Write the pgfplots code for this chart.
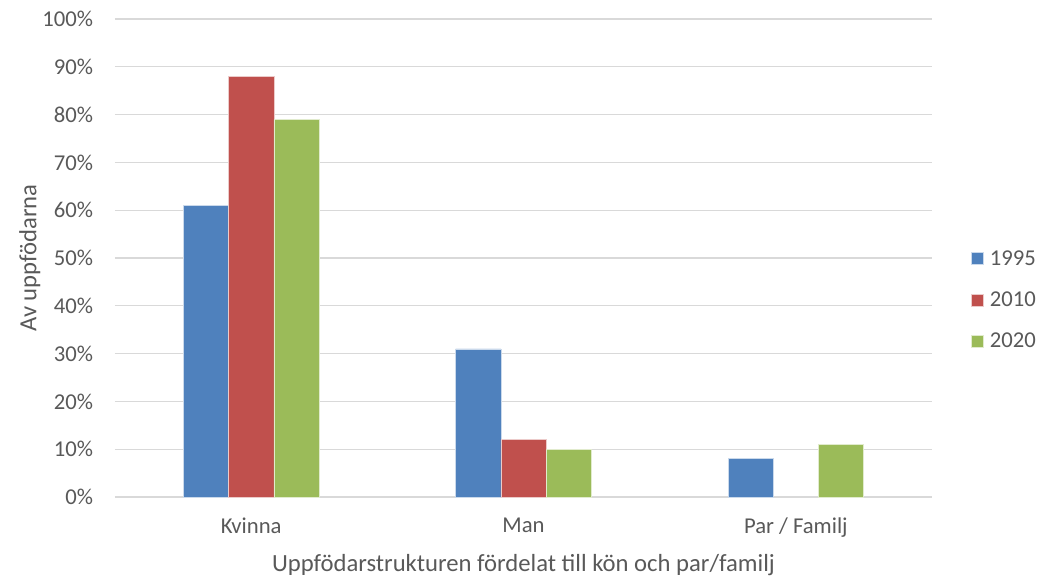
\documentclass[border=0pt]{standalone}
\usepackage{fontspec}
\setmainfont{Carlito}
\usepackage{pgfplots}
\pgfplotsset{compat=1.18}
\usetikzlibrary{calc}

\definecolor{c95}{HTML}{4F81BD}
\definecolor{c10}{HTML}{C0504D}
\definecolor{c20}{HTML}{9BBB59}
\definecolor{gridc}{HTML}{D9D9D9}
\definecolor{txt}{HTML}{595959}

\begin{document}
\begin{tikzpicture}
\begin{axis}[
  name=ax,
  scale only axis,
  width=612.75pt, height=358.5pt,
  xmin=-0.5, xmax=2.5,
  ymin=0, ymax=100,
  ytick={0,10,...,100},
  yticklabel={\pgfmathprintnumber{\tick}\%},
  /pgf/number format/assume math mode=true,
  xtick={0,1,2},
  xticklabels={Kvinna, Man, Par / Familj},
  major tick length=0pt,
  ymajorgrids,
  grid style={gridc, line width=0.9pt},
  axis x line*=bottom,
  axis y line*=left,
  x axis line style={gridc, line width=0.9pt, -},
  y axis line style={draw=none},
  tick label style={font=\fontsize{17}{19}\selectfont, text=txt},
  yticklabel style={xshift=-13pt},
  xticklabel style={yshift=-12pt},
  xlabel={Uppfödarstrukturen fördelat till kön och par/familj},
  ylabel={Av uppfödarna},
  label style={font=\fontsize{18.5}{21}\selectfont, text=txt},
  xlabel style={yshift=-6pt},
  ylabel style={yshift=-5.5pt},
  ybar,
  bar width=0.166,
  legend style={at={(1.047,0.412)}, anchor=west, draw=none,
    font=\fontsize{17}{19}\selectfont, text=txt,
    row sep=14.5pt, column sep=3pt, inner xsep=0pt},
  legend cell align=left,
  legend image code/.code={\fill[#1] (0pt,-4.5pt) rectangle (9pt,4.5pt);},
]
\addplot[fill=c95, draw=white!70!c95, line width=0.4pt, bar shift=-0.166]
  coordinates {(0,61) (1,31) (2,8)};
\addlegendentry{1995}
\addplot[fill=c10, draw=white!70!c10, line width=0.4pt, bar shift=0]
  coordinates {(0,88) (1,12)};
\addlegendentry{2010}
\addplot[fill=c20, draw=white!70!c20, line width=0.4pt, bar shift=0.166]
  coordinates {(0,79) (1,10) (2,11)};
\addlegendentry{2020}
\coordinate (o) at (rel axis cs:0,0);
\end{axis}
\pgfresetboundingbox
\path ($(o)+(-86.25pt,-61.5pt)$) rectangle ++(778.5pt,434.25pt);
\end{tikzpicture}
\end{document}
